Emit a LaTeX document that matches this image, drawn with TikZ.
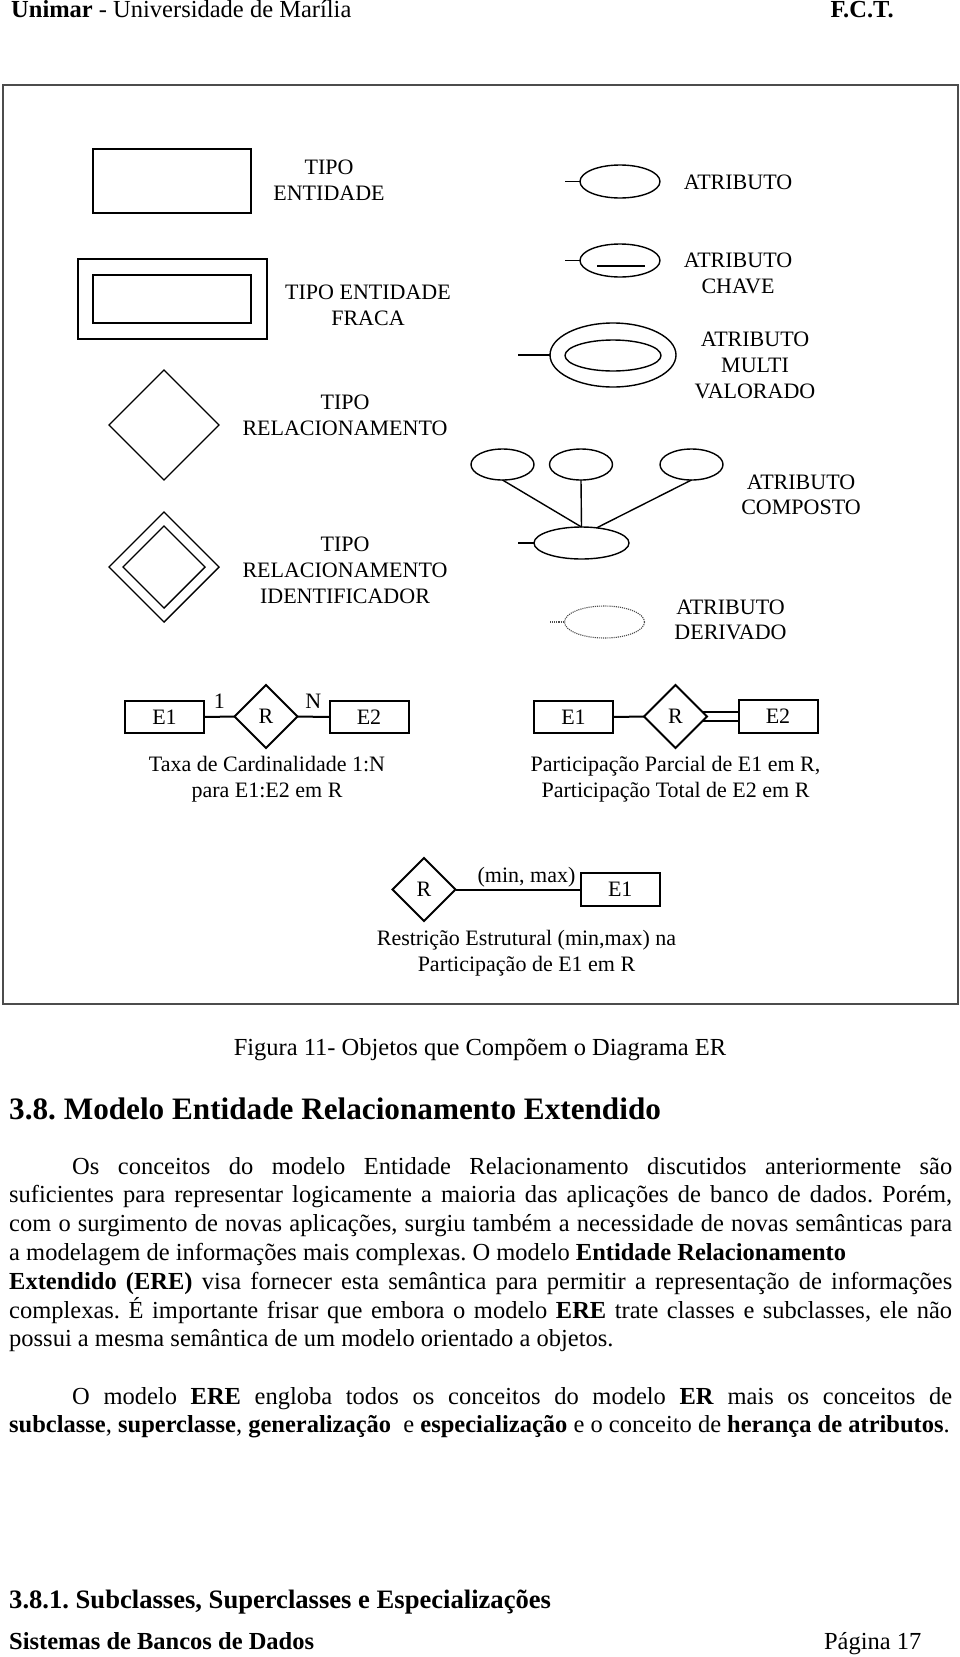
\documentclass[tikz,border=0pt]{standalone}
\usepackage{fontspec}
\setmainfont{Liberation Serif}
\usetikzlibrary{shapes.geometric,calc}
\newcommand\dfont{\fontsize{22}{26}\selectfont}
\newcommand\bfont{\fontsize{24.5}{28.8}\selectfont}
\newcommand\hfont{\fontsize{31.2}{36}\selectfont}
\newcommand\sfontsub{\fontsize{26.6}{30}\selectfont}
\frenchspacing
\begin{document}
\begin{tikzpicture}[x=1pt,y=-1pt,
  box/.style={draw,line width=1.4pt,rectangle,inner sep=0pt,outer sep=0pt},
  dia/.style={draw,line width=1.4pt,diamond,aspect=1,inner sep=0pt,outer sep=0pt},
  ell/.style={draw,line width=1.4pt,ellipse,inner sep=0pt,outer sep=0pt},
  tbox/.style={draw,line width=2pt,rectangle,minimum width=79pt,minimum height=32pt,inner sep=0pt,outer sep=0pt,font=\dfont},
  tdia/.style={draw,line width=2pt,diamond,minimum width=63pt,minimum height=63pt,inner sep=0pt,outer sep=0pt,font=\dfont},
  lbl/.style={anchor=base,inner sep=0pt,font=\dfont},
  link/.style={line width=2pt},
  stub/.style={line width=1.4pt},
  txt/.style={anchor=base west,inner sep=0pt,font=\bfont},
  derived/.style={draw=black!70,densely dotted,line width=1.1pt}
]
\useasboundingbox (0,0) rectangle (960,1657);
\fill[white] (0,0) rectangle (960,1657);

% header
\node[txt] (hdr) at (11,17.5) {\textbf{Unimar} - Universidade de Marília};
\node[anchor=base east,inner sep=0pt,font=\bfont] (fct) at (894,17.5) {\textbf{F.C.T.}};

% frame
\draw[line width=1.6pt,black!70] (3,85) rectangle (958,1004);

% entity
\node[box,minimum width=158pt,minimum height=64pt] (ent) at (172,181) {};
\node[lbl] (entA) at (329,174.3) {TIPO};
\node[lbl] (entB) at (329,200.3) {ENTIDADE};

% weak entity
\node[box,minimum width=189pt,minimum height=80pt] (wkO) at (172.5,299) {};
\node[box,minimum width=158pt,minimum height=48pt] (wkI) at (172,299) {};
\node[lbl] (wkA) at (368,299.3) {TIPO ENTIDADE};
\node[lbl] (wkB) at (368,325.3) {FRACA};

% relationship
\node[dia,minimum width=110pt,minimum height=110pt] (rel) at (164,425) {};
\node[lbl] (relA) at (345,409.3) {TIPO};
\node[lbl] (relB) at (345,435.3) {RELACIONAMENTO};

% identifying relationship
\node[dia,minimum width=110pt,minimum height=110pt] (idO) at (164,567) {};
\node[dia,minimum width=82pt,minimum height=82pt] (idI) at (164,567) {};
\node[lbl] (idA) at (345,551.3) {TIPO};
\node[lbl] (idB) at (345,577.3) {RELACIONAMENTO};
\node[lbl] (idC) at (345,603.3) {IDENTIFICADOR};

% attribute
\node[ell,minimum width=80pt,minimum height=33pt] (at) at (620,181.5) {};
\coordinate (atS) at (565,181.5);
\draw[stub] (atS) -- (at.west);
\node[lbl] (atA) at (738,189.3) {ATRIBUTO};

% key attribute
\node[ell,minimum width=80pt,minimum height=33pt] (key) at (620,260.5) {};
\coordinate (keyS) at (565,260.5);
\draw[stub] (keyS) -- (key.west);
\draw[stub] ($(key.center)+(-23,5.5)$) -- ($(key.center)+(25,5.5)$);
\node[lbl] (keyA) at (738,267.3) {ATRIBUTO};
\node[lbl] (keyB) at (738,293.3) {CHAVE};

% multivalued attribute
\node[ell,minimum width=126pt,minimum height=64pt] (mvO) at (613,355) {};
\node[ell,minimum width=96pt,minimum height=31pt] (mvI) at (613,355.5) {};
\coordinate (mvS) at (518,355);
\draw[stub] (mvS) -- (mvO.west);
\node[lbl] (mvA) at (755,346.3) {ATRIBUTO};
\node[lbl] (mvB) at (755,372.3) {MULTI};
\node[lbl] (mvC) at (755,398.3) {VALORADO};

% composite attribute
\node[ell,minimum width=63pt,minimum height=31pt] (c1) at (502.5,464.5) {};
\node[ell,minimum width=63pt,minimum height=31pt] (c2) at (581,464.5) {};
\node[ell,minimum width=63pt,minimum height=31pt] (c3) at (691.5,464.5) {};
\node[ell,minimum width=95pt,minimum height=32pt] (c0) at (581.5,543) {};
\draw[stub] (c1.south) -- (c0.north);
\draw[stub] (c2.south) -- (c0.north);
\draw[stub] (c3.south) -- (c0.45);
\coordinate (c0S) at (518,543);
\draw[stub] (c0S) -- (c0.west);
\node[lbl] (cA) at (801,489.3) {ATRIBUTO};
\node[lbl] (cB) at (801,514.3) {COMPOSTO};

% derived attribute
\node[ellipse,derived,inner sep=0pt,outer sep=0pt,minimum width=80pt,minimum height=32pt] (dv) at (604.5,622) {};
\coordinate (dvS) at (550,622);
\draw[derived] (dvS) -- (dv.west);
\node[lbl] (dvA) at (730.5,614.3) {ATRIBUTO};
\node[lbl] (dvB) at (730.5,639.3) {DERIVADO};

% cardinality 1:N
\node[tbox] (l1) at (164.5,717) {E1};
\node[tdia] (lr) at (266,716.5) {R};
\node[tbox] (l2) at (369,717) {E2};
\draw[link] (l1.east) -- (lr.west);
\draw[link] (lr.east) -- (l2.west);
\node[lbl] (one) at (219.3,708) {1};
\node[lbl] (enn) at (313.3,708) {N};
\node[lbl] (lcA) at (267,771.5) {Taxa de Cardinalidade 1:N};
\node[lbl] (lcB) at (267,797.5) {para E1:E2 em R};

% participation
\node[tbox] (r1) at (573.5,717) {E1};
\node[tdia] (rr) at (675.5,716.5) {R};
\node[tbox,minimum height=33pt] (r2) at (778,716.5) {E2};
\draw[link] (r1.east) -- (rr.west);
\draw[link] ([xshift=-4.5pt,yshift=4.5pt]rr.east) -- ([yshift=4.5pt]r2.west);
\draw[link] ([xshift=-4.5pt,yshift=-4.5pt]rr.east) -- ([yshift=-4.5pt]r2.west);
\node[lbl] (rcA) at (675.5,771.5) {Participação Parcial de E1 em R,};
\node[lbl] (rcB) at (675.5,797.5) {Participação Total de E2 em R};

% structural constraint
\node[tdia] (sr) at (424,889.5) {R};
\node[tbox,minimum width=79.5pt,minimum height=33pt] (se) at (620.25,889.5) {E1};
\draw[link] (sr.east) -- (se.west);
\node[lbl] (mm) at (526.5,882) {(min, max)};
\node[lbl] (scA) at (526.5,945.5) {Restrição Estrutural (min,max) na};
\node[lbl] (scB) at (526.5,971.5) {Participação de E1 em R};

% caption and body text
\node[anchor=base,inner sep=0pt,font=\bfont] (cap) at (480,1055) {Figura 11- Objetos que Compõem o Diagrama ER};
\node[txt,font=\hfont] (h1) at (9,1119) {\textbf{3.8. Modelo Entidade Relacionamento Extendido}};

\node[txt] (p1) at (72,1174) {\makebox[880pt][s]{Os conceitos do modelo Entidade Relacionamento discutidos anteriormente são}};
\node[txt] (p2) at (9,1202.8) {\makebox[943pt][s]{suficientes para representar logicamente a maioria das aplicações de banco de dados. Porém,}};
\node[txt] (p3) at (9,1231.6) {\makebox[943pt][s]{com o surgimento de novas aplicações, surgiu também a necessidade de novas semânticas para}};
\node[txt] (p4) at (9,1260.4) {a modelagem de informações mais complexas. O modelo \textbf{Entidade Relacionamento}};
\node[txt] (p5) at (9,1289.2) {\makebox[943pt][s]{\textbf{Extendido (ERE)} visa fornecer esta semântica para permitir a representação de informações}};
\node[txt] (p6) at (9,1318) {\makebox[943pt][s]{complexas. É importante frisar que embora o modelo \textbf{ERE} trate classes e subclasses, ele não}};
\node[txt] (p7) at (9,1346.8) {possui a mesma semântica de um modelo orientado a objetos.};

\node[txt] (q1) at (72,1404) {\makebox[880pt][s]{O modelo \textbf{ERE} engloba todos os conceitos do modelo \textbf{ER} mais os conceitos de}};
\node[txt] (q2) at (9,1432.8) {\textbf{subclasse}, \textbf{superclasse}, \textbf{generalização}\ \ e \textbf{especialização} e o conceito de \textbf{herança de atributos}.};

\node[txt,font=\sfontsub] (h2) at (9,1608) {\textbf{3.8.1. Subclasses, Superclasses e Especializações}};

% footer
\node[txt] (ft) at (9,1649) {\textbf{Sistemas de Bancos de Dados}};
\node[anchor=base east,inner sep=0pt,font=\bfont] (pg) at (921.5,1649) {Página 17};
\end{tikzpicture}
\end{document}
